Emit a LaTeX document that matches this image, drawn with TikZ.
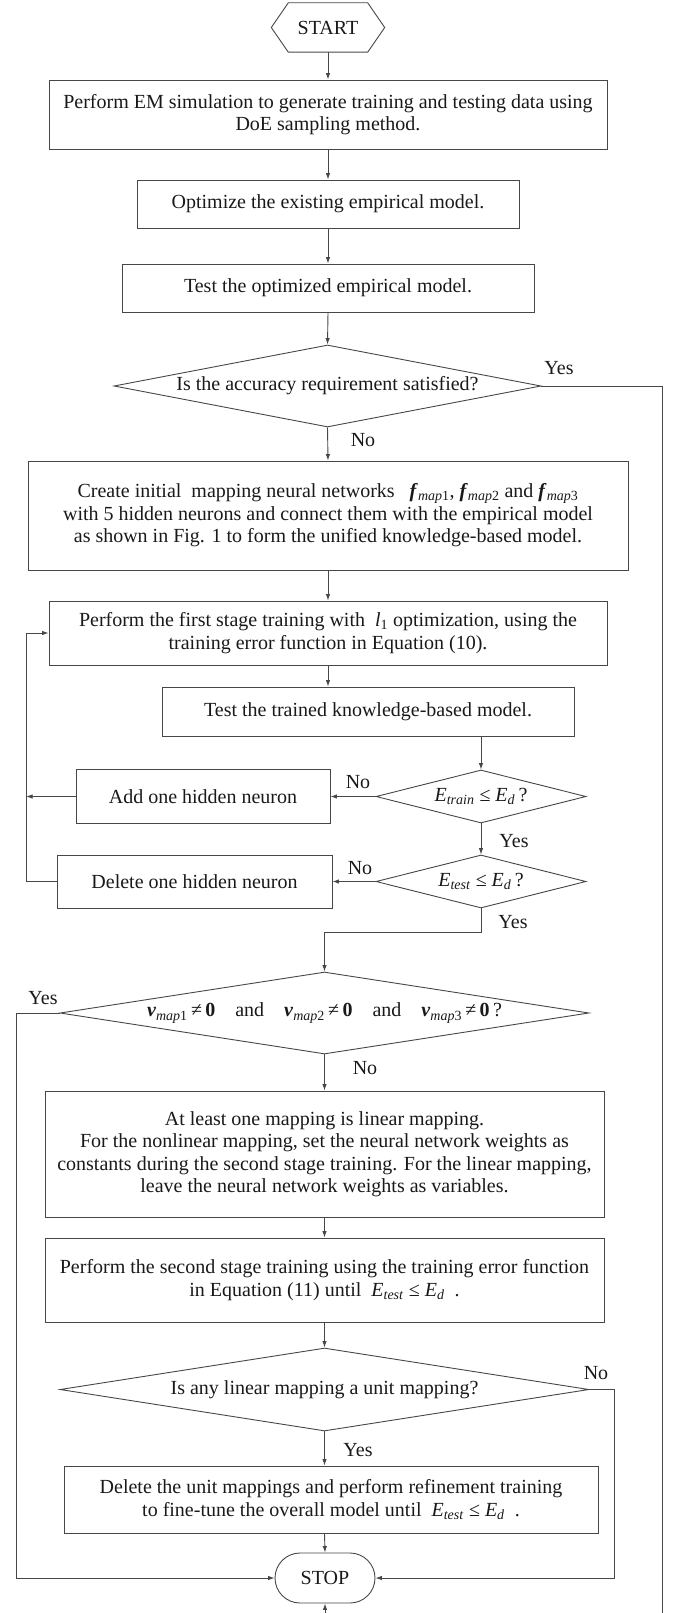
\documentclass[tikz,border=0pt]{standalone}
\usepackage{fontspec}
\setmainfont{Liberation Serif}
\usetikzlibrary{shapes.geometric,shapes.misc,arrows.meta}
\newcommand\sbs[1]{\textsubscript{\textit{#1}}}
\newcommand\Etest{\textit{E}\sbs{test}}
\newcommand\Etrain{\textit{E}\sbs{train}}
\newcommand\Ed{\textit{E}\sbs{d}}
\newcommand\fmap[1]{\textbf{\textit{f}}\textsubscript{\textit{map}#1}}
\newcommand\vmap[1]{\textbf{\textit{v}}\textsubscript{\textit{map}#1}}
\tikzset{
  conn/.style={draw=black!72, line width=0.9pt},
  arr/.style={conn, -{Latex[length=6.5pt,width=4.5pt]}},
  box/.style={draw=black!72, line width=0.9pt, rectangle, inner sep=0pt, align=center, text=black!90},
  dia/.style={draw=black!72, line width=0.9pt, diamond, inner sep=0pt, text=black!90},
  lbl/.style={text=black!90, inner sep=0pt},
}
\begin{document}
\begin{tikzpicture}[x=1pt,y=-1pt,font=\fontsize{20}{22.5}\selectfont]
\useasboundingbox (0,0) rectangle (677,1613);
\clip (0,0) rectangle (677,1613);
% START hexagon
\node[rectangle, minimum width=79pt, minimum height=49pt, inner sep=0pt, text=black!90] (start) at (328,27.5) {START};
\draw[conn] (start.north west) -- (start.north east) -- ([xshift=17pt]start.east) -- (start.south east) -- (start.south west) -- ([xshift=-17pt]start.west) -- cycle;

\node[box, minimum width=558pt, minimum height=69pt] (b1) at (328,114.5) {Perform EM simulation to generate training and testing data using\\DoE sampling method.};
\node[box, minimum width=382pt, minimum height=48pt] (b2) at (328,204) {Optimize the existing empirical model.};
\node[box, minimum width=412pt, minimum height=48pt] (b3) at (328,288) {Test the optimized empirical model.};
\node[dia, minimum width=427pt, minimum height=82pt] (d1) at (327.5,386) {\makebox[0pt]{Is the accuracy requirement satisfied?}};
\node[box, minimum width=600pt, minimum height=109pt] (b4) at (328,515.5) {Create initial\ \ mapping neural networks\ \ \ \fmap{1}, \fmap{2}\ and \fmap{3}\\with 5 hidden neurons and connect them with the empirical model\\as shown in Fig. 1 to form the unified knowledge-based model.};
\node[box, minimum width=558pt, minimum height=64pt] (b5) at (328,633) {Perform the first stage training with\ \ \textit{l}\textsubscript{1} optimization, using the\\training error function in Equation (10).};
\node[box, minimum width=412pt, minimum height=49pt] (b6) at (368,711.5) {Test the trained knowledge-based model.};
\node[dia, minimum width=210pt, minimum height=53pt] (d2) at (481,796.5) {\makebox[0pt]{\Etrain\ ≤ \Ed\,?}};
\node[box, minimum width=254pt, minimum height=54pt] (add) at (203,796.5) {Add one hidden neuron};
\node[dia, minimum width=210pt, minimum height=53pt] (d3) at (481,881.5) {\makebox[0pt]{\Etest\ ≤ \Ed\,?}};
\node[box, minimum width=275pt, minimum height=53pt] (del) at (194.5,881.5) {Delete one hidden neuron};
\node[dia, minimum width=529pt, minimum height=82pt] (d4) at (324.5,1013) {\makebox[0pt]{\vmap{1}\,≠\,\textbf{0}\quad and\quad \vmap{2}\,≠\,\textbf{0}\quad and\quad \vmap{3}\,≠\,\textbf{0}\,?}};
\node[box, minimum width=559pt, minimum height=126pt] (b7) at (324.5,1154) {At least one mapping is linear mapping.\\For the nonlinear mapping, set the neural network weights as\\constants during the second stage training. For the linear mapping,\\leave the neural network weights as variables.};
\node[box, minimum width=559pt, minimum height=84pt] (b8) at (324.5,1280) {Perform the second stage training using the training error function\\in Equation (11) until\ \ \Etest\ ≤ \Ed\ \ .};
\node[dia, minimum width=529pt, minimum height=83pt] (d5) at (324.5,1389.5) {\makebox[0pt]{Is any linear mapping a unit mapping?}};
\node[box, minimum width=534pt, minimum height=67pt] (b9) at (331,1499.5) {Delete the unit mappings and perform refinement training\\to fine-tune the overall model until\ \ \Etest\ ≤ \Ed\ \ .};
\node[draw=black!72, line width=0.9pt, rounded rectangle, minimum width=100pt, minimum height=50pt, inner sep=0pt, text=black!90] (stop) at (325,1578) {STOP};

% helper coordinates
\coordinate (r1) at (662,386);
\coordinate (r2) at (662,1630);
\coordinate (r3) at (325,1630);
\coordinate (lx1) at (26,796.5);
\coordinate (lx2) at (26,881.5);
\coordinate (lx3) at (26,633);
\coordinate (m1) at (481,932);
\coordinate (m2) at (324.5,932);
\coordinate (yl1) at (16,1013);
\coordinate (yl2) at (16,1578);
\coordinate (nr1) at (614,1389.5);
\coordinate (nr2) at (614,1578);

% connectors
\draw[arr] (start.south) -- (b1.north);
\draw[arr] (b1.south) -- (b2.north);
\draw[arr] (b2.south) -- (b3.north);
\draw[arr] (b3.south) -- (d1.north);
\draw[arr] (d1.south) -- (b4.north);
\draw[arr] (d1.east) -- (r1) -- (r2) -- (r3) -- (stop.south);
\draw[arr] (b4.south) -- (b5.north);
\draw[arr] (b5.south) -- (b5.south |- b6.north);
\draw[arr] (d2.north |- b6.south) -- (d2.north);
\draw[arr] (d2.west) -- (add.east);
\draw[arr] (add.west) -- (lx1);
\draw[arr] (d2.south) -- (d3.north);
\draw[arr] (d3.west) -- (del.east);
\draw[arr] (del.west) -- (lx2) -- (lx3) -- (b5.west);
\draw[arr] (d3.south) -- (m1) -- (m2) -- (d4.north);
\draw[arr] (d4.west) -- (yl1) -- (yl2) -- (stop.west);
\draw[arr] (d4.south) -- (b7.north);
\draw[arr] (b7.south) -- (b8.north);
\draw[arr] (b8.south) -- (d5.north);
\draw[arr] (d5.east) -- (nr1) -- (nr2) -- (stop.east);
\draw[arr] (d5.south) -- (d5.south |- b9.north);
\draw[arr] (d5.south |- b9.south) -- (stop.north);

% labels
\node[lbl] (t1) at (559,368) {Yes};
\node[lbl] (t2) at (363,440) {No};
\node[lbl] (t3) at (358,782) {No};
\node[lbl] (t4) at (514,841) {Yes};
\node[lbl] (t5) at (360,868) {No};
\node[lbl] (t6) at (513,922) {Yes};
\node[lbl] (t7) at (43,998) {Yes};
\node[lbl] (t8) at (365,1068) {No};
\node[lbl] (t9) at (596,1373) {No};
\node[lbl] (t10) at (358,1450) {Yes};
\end{tikzpicture}
\end{document}
